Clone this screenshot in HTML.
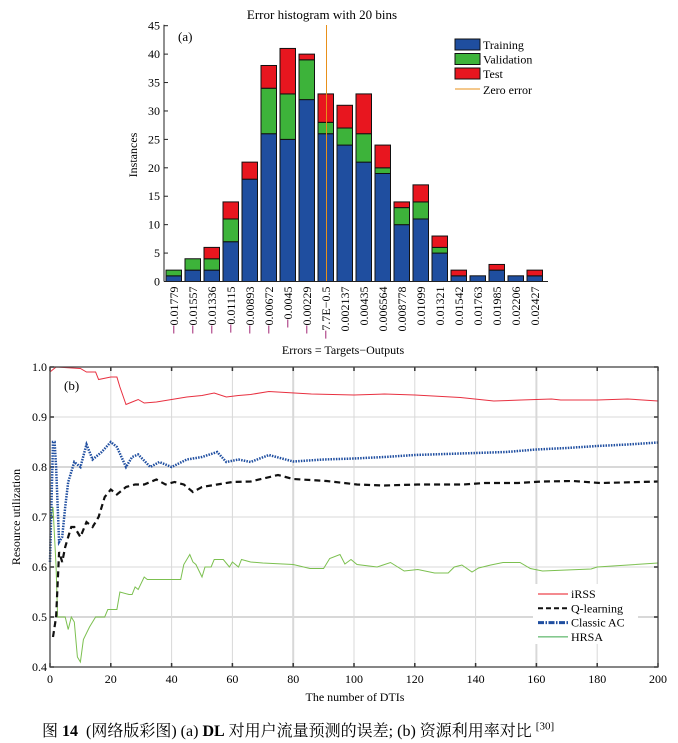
<!DOCTYPE html>
<html><head><meta charset="utf-8"><style>
body{margin:0;background:#fff;width:678px;height:743px;overflow:hidden}
svg{position:absolute;left:0;top:0;font-family:"Liberation Serif","Noto Serif CJK SC",serif}
.cap{position:absolute;left:42px;top:718px;font-family:"Liberation Serif","Noto Serif CJK SC",serif;font-size:16px;white-space:nowrap}
</style></head><body>
<svg id="svg" width="678" height="743"></svg>
<div class="cap">图 <b>14</b>&nbsp; (网络版彩图) (a) <b>DL</b> 对用户流量预测的误差; (b) 资源利用率对比 <sup style="font-size:11px">[30]</sup></div>
<script>
const binLabels=["−0.01779","−0.01557","−0.01336","−0.01115","−0.00893","−0.00672","−0.0045","−0.00229","−7.7E−0.5","0.002137","0.00435","0.006564","0.008778","0.01099","0.01321","0.01542","0.01763","0.01985","0.02206","0.02427"];
const training=[1,2,2,7,18,26,25,32,26,24,21,19,10,11,5,1,1,2,1,1];
const validation=[1,2,2,4,0,8,8,7,2,3,5,1,3,3,1,0,0,0,0,0];
const test=[0,0,2,3,3,4,8,1,5,4,7,4,1,3,2,1,0,1,0,1];
const yTicksA=[0,5,10,15,20,25,30,35,40,45];
const zeroBin=8.5;

const xs=[0,1,1.5,2,3,4,5,6,8,10,12,14,17,20,22,25,27,29,33,36,40,45,50,55,58,62,66,72,80,90,100,110,120,130,140,150,160,170,180,190,200];
const classicAC=[0.61,0.85,0.85,0.8,0.65,0.66,0.72,0.77,0.81,0.8,0.845,0.815,0.83,0.85,0.84,0.8,0.82,0.825,0.8,0.81,0.8,0.815,0.82,0.83,0.81,0.815,0.81,0.824,0.811,0.815,0.817,0.82,0.824,0.826,0.828,0.83,0.835,0.838,0.842,0.845,0.849];
const irssX=[0,1,2,10,12,15,16,20,22,23,25,27,29,31,35,40,45,50,54,58,62,66,72,86,100,110,120,135,146,155,165,168,180,190,200];
const irss=[0.99,0.995,1.0,0.997,0.99,0.99,0.975,0.98,0.98,0.96,0.925,0.93,0.935,0.928,0.93,0.935,0.94,0.943,0.948,0.94,0.943,0.945,0.951,0.946,0.944,0.946,0.944,0.939,0.932,0.934,0.936,0.934,0.934,0.936,0.932];
const qX=[1,2,3,4,5,6,7,8,9,10,12,14,16,18,20,22,25,28,31,35,38,41,44,47,50,55,60,66,75,80,91,101,110,121,136,143,154,162,172,181,188,200];
const qlearn=[0.46,0.5,0.63,0.61,0.64,0.66,0.68,0.68,0.67,0.66,0.69,0.68,0.7,0.74,0.755,0.745,0.76,0.765,0.765,0.775,0.765,0.77,0.765,0.75,0.76,0.765,0.77,0.771,0.784,0.776,0.772,0.765,0.763,0.765,0.765,0.768,0.768,0.771,0.772,0.768,0.769,0.771];
const hX=[0,1,2,2.5,5,6,7,8,9,10,11,13,15,18,19,22,23,26,27,28,29,31,32,38,43,44,46,47,48,50,51,53,54,57,59,60,62,63,66,70,80,85.5,90,92,95.4,97,99,101,107.6,112,116.5,121,126.5,131,133,135.5,138.8,141,145,149,154.6,158,162,178,180,200];
const hrsa=[0.69,0.72,0.6,0.5,0.5,0.475,0.5,0.49,0.42,0.41,0.455,0.48,0.5,0.5,0.515,0.515,0.55,0.545,0.545,0.56,0.555,0.58,0.575,0.575,0.575,0.605,0.625,0.61,0.605,0.58,0.6,0.6,0.615,0.615,0.6,0.61,0.6,0.615,0.61,0.608,0.605,0.597,0.597,0.617,0.625,0.606,0.615,0.605,0.6,0.609,0.592,0.595,0.588,0.588,0.6,0.604,0.59,0.598,0.604,0.609,0.609,0.597,0.592,0.596,0.6,0.608];
const xTicksB=[0,20,40,60,80,100,120,140,160,180,200];
const yTicksB=[0.4,0.5,0.6,0.7,0.8,0.9,1.0];

const svg=document.getElementById('svg');
const NS='http://www.w3.org/2000/svg';
function mk(t,a,p){const e=document.createElementNS(NS,t);for(const k in a)e.setAttribute(k,a[k]);(p||svg).appendChild(e);return e;}

// ---- chart A ----
const A={x0:164,x1:548,y0:281.5,y1:25.7};
const ay=v=>A.y0-(A.y0-A.y1)*v/45;
const pitch=19,bw=15.5;
const ax=i=>166+i*pitch;
const gA=mk('g',{});


let t=mk('text',{x:322,y:19,'font-size':13,'text-anchor':'middle'},gA);t.textContent='Error histogram with 20 bins';

t=mk('text',{x:137,y:155,'font-size':12,'text-anchor':'middle',transform:'rotate(-90 137 155)'},gA);t.textContent='Instances';

t=mk('text',{x:178,y:41,'font-size':13},gA);t.textContent='(a)';

for(let i=0;i<20;i++){
  const segs=[[training[i],'#1f4e9f'],[validation[i],'#3db33a'],[test[i],'#e8161f']];
  let base=0;
  segs.forEach((s,k)=>{
    if(s[0]<=0)return;
    const r=mk('rect',{x:ax(i),y:ay(base+s[0]),width:bw,height:ay(base)-ay(base+s[0]),fill:s[1],stroke:'#111','stroke-width':1},gA);
    
    
    base+=s[0];
  });
  const cx=ax(i)+bw/2;
  const neg=binLabels[i].startsWith('−');
  const txt=neg?binLabels[i].slice(1):binLabels[i];
  const lb=mk('text',{x:cx+4,y:A.y0+5,'font-size':12,'text-anchor':'end',transform:`rotate(-90 ${cx+4} ${A.y0+5})`},gA);
  lb.textContent=txt;
  
  if(neg){
    const len=lb.getComputedTextLength();
    const tk=mk('line',{x1:cx,x2:cx,y1:A.y0+5+len,y2:A.y0+5+len+8,stroke:'#b04a8c','stroke-width':1.2},gA);
    
  }
}
const zx=ax(0)+zeroBin*pitch-1;
let zl=mk('line',{x1:zx,x2:zx,y1:25,y2:A.y0,stroke:'#e8901a','stroke-width':1},gA);

mk('line',{x1:A.x0,x2:A.x0,y1:A.y1-1,y2:A.y0,stroke:'#222','stroke-width':1},gA);
mk('line',{x1:A.x0,x2:A.x1,y1:A.y0,y2:A.y0,stroke:'#222','stroke-width':1},gA);
yTicksA.forEach(v=>{
  mk('line',{x1:A.x0,x2:A.x0+4,y1:ay(v),y2:ay(v),stroke:'#222'},gA);
  const l=mk('text',{x:A.x0-4,y:ay(v)+4,'font-size':12,'text-anchor':'end'},gA);l.textContent=v;
  
});
t=mk('text',{x:343,y:354,'font-size':12,'text-anchor':'middle'},gA);t.textContent='Errors = Targets−Outputs';

const legA=mk('g',{},gA);

[['Training','#1f4e9f'],['Validation','#3db33a'],['Test','#e8161f']].forEach((e,k)=>{
  const y=39+k*14.5;
  mk('rect',{x:455,y:y,width:25,height:11,fill:e[1],stroke:'#111'},legA);
  const l=mk('text',{x:483,y:y+10,'font-size':12},legA);l.textContent=e[0];
  
});
mk('line',{x1:455,x2:480,y1:89,y2:89,stroke:'#e8901a'},legA);
t=mk('text',{x:483,y:94,'font-size':12},legA);t.textContent='Zero error';


// ---- chart B ----
const B={x0:50,x1:658,y0:667,y1:367};
const bx=v=>B.x0+(B.x1-B.x0)*v/200;
const by=v=>B.y0-(B.y0-B.y1)*(v-0.4)/0.6;
const gB=mk('g',{});

xTicksB.forEach(v=>{
  if(v>0&&v<200)mk('line',{x1:bx(v),x2:bx(v),y1:B.y1,y2:B.y0,stroke:'#d8d8d8','stroke-width':(v==80||v==160)?2:1},gB);
  mk('line',{x1:bx(v),x2:bx(v),y1:B.y0,y2:B.y0-4,stroke:'#333','stroke-width':1.5},gB);
  mk('line',{x1:bx(v),x2:bx(v),y1:B.y1,y2:B.y1+4,stroke:'#333','stroke-width':1.5},gB);
  const l=mk('text',{x:bx(v),y:B.y0+16,'font-size':12,'text-anchor':'middle'},gB);l.textContent=v;
  
});
yTicksB.forEach(v=>{
  if(v>0.4&&v<1)mk('line',{x1:B.x0,x2:B.x1,y1:by(v),y2:by(v),stroke:'#d8d8d8','stroke-width':(v==0.8||v==0.5)?2:1},gB);
  mk('line',{x1:B.x0,x2:B.x0+4,y1:by(v),y2:by(v),stroke:'#333','stroke-width':1.5},gB);
  mk('line',{x1:B.x1,x2:B.x1-4,y1:by(v),y2:by(v),stroke:'#333','stroke-width':1.5},gB);
  const l=mk('text',{x:B.x0-3,y:by(v)+4,'font-size':12,'text-anchor':'end'},gB);l.textContent=v.toFixed(1);
  
});
function line(X,Y,st,name){
  const d=X.map((x,i)=>(i?'L':'M')+bx(x).toFixed(1)+','+by(Y[i]).toFixed(1)).join('');
  const p=mk('path',Object.assign({d:d,fill:'none'},st),gB);
  
}
line(hX,hrsa,{stroke:'#7cc050','stroke-width':1},'hrsa-line');
line(qX,qlearn,{stroke:'#111','stroke-width':2.2,'stroke-dasharray':'6,4'},'q-learning-line');
line(xs,classicAC,{stroke:'#1f4ea0','stroke-width':2.5,'stroke-dasharray':'1.5,1.2'},'classic-ac-line');
line(irssX,irss,{stroke:'#e83040','stroke-width':1},'irss-line');
mk('rect',{x:B.x0,y:B.y1,width:B.x1-B.x0,height:B.y0-B.y1,fill:'none',stroke:'#444','stroke-width':1.3},gB);
t=mk('text',{x:64,y:390,'font-size':13},gB);t.textContent='(b)';

t=mk('text',{x:355,y:701,'font-size':12,'text-anchor':'middle'},gB);t.textContent='The number of DTIs';

t=mk('text',{x:20,y:517,'font-size':12,'text-anchor':'middle',transform:'rotate(-90 20 517)'},gB);t.textContent='Resource utilization';

const legB=mk('g',{},gB);

mk('rect',{x:533,y:584,width:105,height:60,fill:'#fff'},legB);
[['iRSS',{stroke:'#e8161f','stroke-width':1}],['Q-learning',{stroke:'#111','stroke-width':2,'stroke-dasharray':'5,3'}],['Classic AC',{stroke:'#1f4ea0','stroke-width':3,'stroke-dasharray':'6,1.5,1.5,1.5'}],['HRSA',{stroke:'#3aa84a','stroke-width':1}]].forEach((e,k)=>{
  const y=594+k*14.3;
  mk('line',Object.assign({x1:538,x2:568,y1:y,y2:y},e[1]),legB);
  const l=mk('text',{x:571,y:y+4,'font-size':12},legB);l.textContent=e[0];
  
});
</script>
</body></html>
